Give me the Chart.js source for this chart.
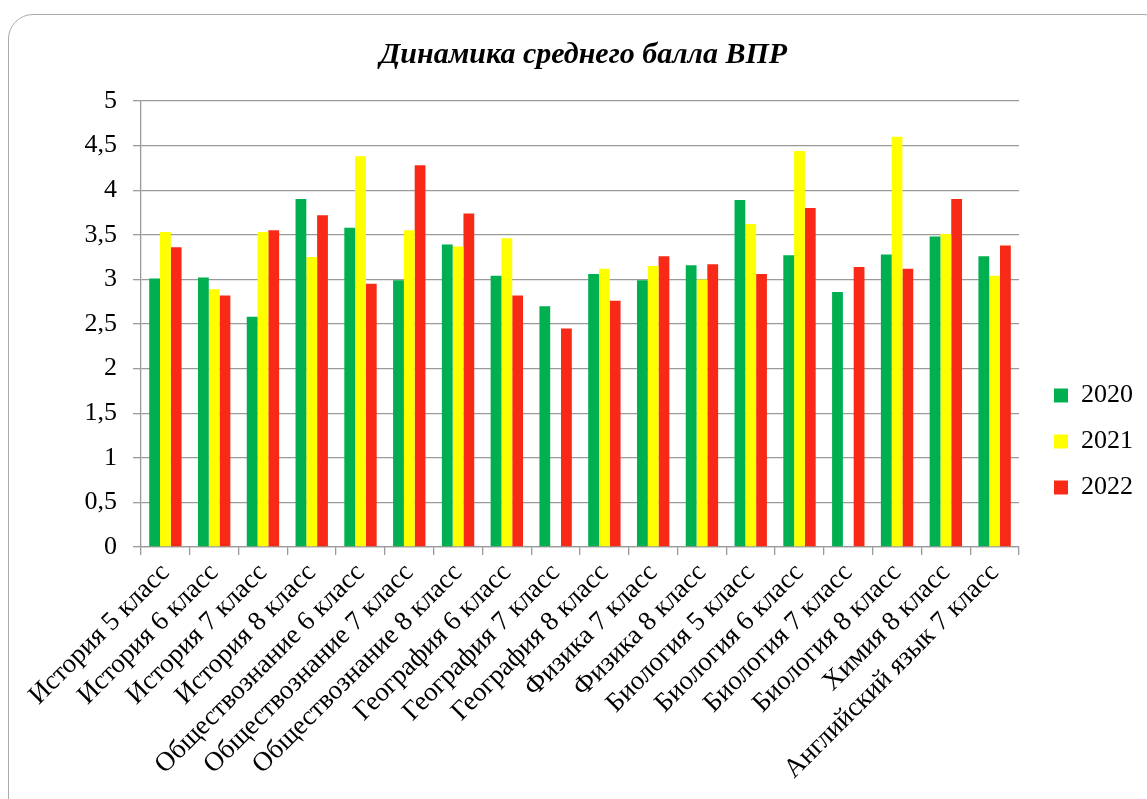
<!DOCTYPE html>
<html>
<head>
<meta charset="utf-8">
<script src="https://cdn.jsdelivr.net/npm/chart.js@4.4.1/dist/chart.umd.min.js"></script>
<style>
    html, body { margin: 0; padding: 0; background: #fff; overflow: hidden; }
    #frame {
        position: absolute; left: 8px; top: 14px; width: 1160px; height: 810px;
        border: 1.5px solid #ababab; border-radius: 25px; box-sizing: border-box;
    }
    #chart { position: absolute; left: 0; top: 0; }
</style>
</head>
<body>
<div id="frame"></div>
<canvas id="chart" width="1147" height="799"></canvas>
<script>
const categories = [
    'История 5 класс', 'История 6 класс', 'История 7 класс', 'История 8 класс',
    'Обществознание 6 класс', 'Обществознание 7 класс', 'Обществознание 8 класс',
    'География 6 класс', 'География 7 класс', 'География 8 класс',
    'Физика 7 класс', 'Физика 8 класс',
    'Биология 5 класс', 'Биология 6 класс', 'Биология 7 класс', 'Биология 8 класс',
    'Химия 8 класс', 'Английский язык 7 класс'
];
const years = ['2020', '2021', '2022'];
const values2020 = [3.01, 3.02, 2.58, 3.90, 3.58, 2.99, 3.39, 3.04, 2.70, 3.06, 2.99, 3.16, 3.89, 3.27, 2.86, 3.28, 3.48, 3.26];
const values2021 = [3.53, 2.89, 3.53, 3.25, 4.38, 3.55, 3.37, 3.46, null, 3.12, 3.15, 3.00, 3.62, 4.44, null, 4.60, 3.51, 3.04];
const values2022 = [3.36, 2.82, 3.55, 3.72, 2.95, 4.28, 3.74, 2.82, 2.45, 2.76, 3.26, 3.17, 3.06, 3.80, 3.14, 3.12, 3.90, 3.38];
const yTicks = [0, 0.5, 1, 1.5, 2, 2.5, 3, 3.5, 4, 4.5, 5];

const colors = ['#00B050', '#FFFF00', '#F82A17'];
const serif = '"Liberation Serif", "Times New Roman", serif';

// keep the legend a fixed width and nudge it into place like the original
const legendPlace = {
    id: 'legendPlace',
    afterInit(chart) {
        const lg = chart.legend;
        const fit = lg.fit.bind(lg);
        lg.fit = function () {
            fit();
            this.width = 128;
            this.right = this.left + 128;
        };
    },
    afterLayout(chart) {
        const lg = chart.legend;
        lg.left += 15;
        lg.top += 42;
        lg.bottom += 42;
    }
};

const gridColor = '#9a9a9a';

new Chart(document.getElementById('chart'), {
    type: 'bar',
    data: {
        labels: categories,
        datasets: [
            {label: years[0], data: values2020, backgroundColor: colors[0]},
            {label: years[1], data: values2021, backgroundColor: colors[1]},
            {label: years[2], data: values2022, backgroundColor: colors[2]},
        ]
    },
    options: {
        responsive: false,
        animation: false,
        layout: {padding: {left: 20, right: 0, top: 0, bottom: 0}},
        datasets: {
            bar: {categoryPercentage: 0.664, barPercentage: 1.0, borderWidth: 0}
        },
        plugins: {
            title: {
                display: true,
                text: 'Динамика среднего балла ВПР',
                color: '#000',
                font: {family: serif, size: 30, style: 'italic', weight: 'bold'},
                padding: {top: 37, bottom: 28},
            },
            legend: {
                position: 'right',
                labels: {
                    color: '#000',
                    font: {family: serif, size: 26},
                    boxWidth: 14,
                    boxHeight: 14,
                    padding: 20,
                }
            },
            tooltip: {enabled: false},
        },
        scales: {
            x: {
                grid: {display: true, drawOnChartArea: false, offset: true, tickLength: 8, color: gridColor, lineWidth: 1.3},
                border: {color: gridColor, width: 1.3},
                ticks: {
                    color: '#000',
                    font: {family: serif, size: 27},
                    minRotation: 45,
                    maxRotation: 45,
                    autoSkip: false,
                    padding: 2,
                },
                afterFit: (s) => { s.height = 252; },
            },
            y: {
                min: 0,
                max: 5,
                afterBuildTicks: (s) => { s.ticks = yTicks.map(v => ({value: v})); },
                grid: {color: gridColor, lineWidth: 1.3, tickLength: 8},
                border: {color: gridColor, width: 1.3},
                ticks: {
                    color: '#000',
                    font: {family: serif, size: 26},
                    padding: 16,
                    callback: (v) => String(v).replace('.', ','),
                },
                afterFit: (s) => { s.width = 121; },
            }
        }
    },
    plugins: [legendPlace]
});
</script>
</body>
</html>
